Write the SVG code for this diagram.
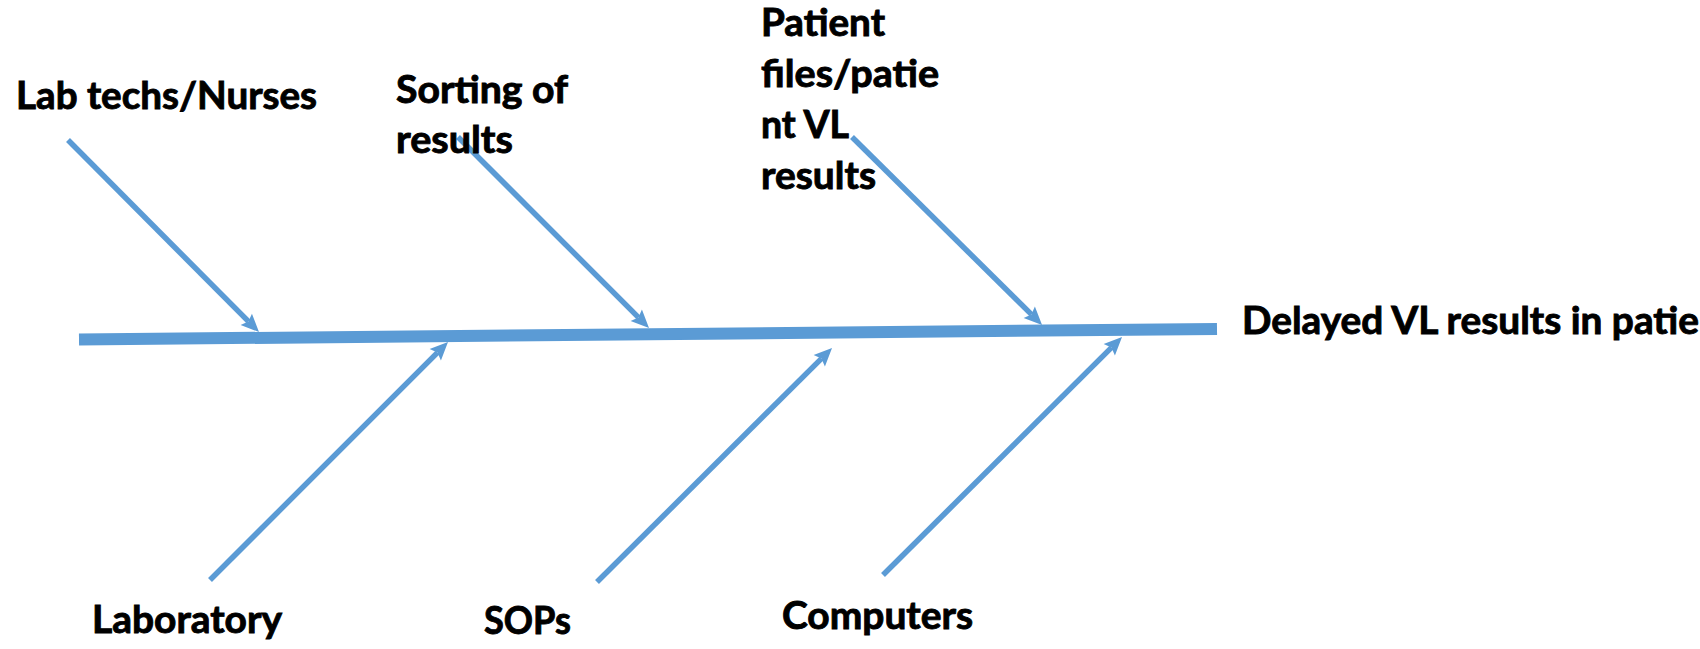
<svg xmlns="http://www.w3.org/2000/svg" width="1700" height="649" viewBox="0 0 1700 649">
  <style>
    .bone { stroke: #5B9BD5; stroke-width: 5.5; fill: none; marker-end: url(#arrow); }
    .spine { stroke: #5B9BD5; stroke-width: 12; fill: none; }
    .lbl { font-family: Lato, "Open Sans", "Liberation Sans", sans-serif; font-weight: bold; font-size: 38px; fill: #000000; stroke: #000000; stroke-width: 0.9; }
  </style>
  <defs>
    <marker id="arrow" markerUnits="userSpaceOnUse" markerWidth="18" markerHeight="16" refX="3" refY="8" orient="auto" overflow="visible">
      <path d="M0,0 L18,8 L0,16 L3,8 z" fill="#5B9BD5"/>
    </marker>
  </defs>
  <rect x="0" y="0" width="1700" height="649" fill="#ffffff"/>

  <g id="connectors">
    <line class="spine" x1="79" y1="339.5" x2="1217" y2="329"/>
    <line class="bone" x1="68" y1="140" x2="248.4" y2="321.4"/>
    <line class="bone" x1="458" y1="137" x2="638.4" y2="317.4"/>
    <line class="bone" x1="852" y1="137" x2="1031.4" y2="314.4"/>
    <line class="bone" x1="210" y1="580" x2="437.4" y2="352.6"/>
    <line class="bone" x1="597" y1="582" x2="821.4" y2="358.6"/>
    <line class="bone" x1="883" y1="575" x2="1111.4" y2="347.6"/>
  </g>

  <g id="node-lab-techs">
    <text class="lbl" x="16" y="109" textLength="301" lengthAdjust="spacingAndGlyphs">Lab techs/Nurses</text>
  </g>
  <g id="node-sorting">
    <text class="lbl" x="396" y="103" textLength="172" lengthAdjust="spacingAndGlyphs">Sorting of</text>
    <text class="lbl" x="396" y="153" textLength="117" lengthAdjust="spacingAndGlyphs">results</text>
  </g>
  <g id="node-patient-files">
    <text class="lbl" x="761" y="36" textLength="124" lengthAdjust="spacingAndGlyphs">Patient</text>
    <text class="lbl" x="761" y="87" textLength="178" lengthAdjust="spacingAndGlyphs">files/patie</text>
    <text class="lbl" x="761" y="138" textLength="88" lengthAdjust="spacingAndGlyphs">nt VL</text>
    <text class="lbl" x="761" y="189" textLength="115" lengthAdjust="spacingAndGlyphs">results</text>
  </g>
  <g id="node-effect">
    <text class="lbl" x="1242" y="334" textLength="457" lengthAdjust="spacingAndGlyphs">Delayed VL results in patie</text>
  </g>
  <g id="node-laboratory">
    <text class="lbl" x="92" y="633" textLength="190" lengthAdjust="spacingAndGlyphs">Laboratory</text>
  </g>
  <g id="node-sops">
    <text class="lbl" x="484" y="634" textLength="87" lengthAdjust="spacingAndGlyphs">SOPs</text>
  </g>
  <g id="node-computers">
    <text class="lbl" x="782" y="629" textLength="191" lengthAdjust="spacingAndGlyphs">Computers</text>
  </g>
</svg>
